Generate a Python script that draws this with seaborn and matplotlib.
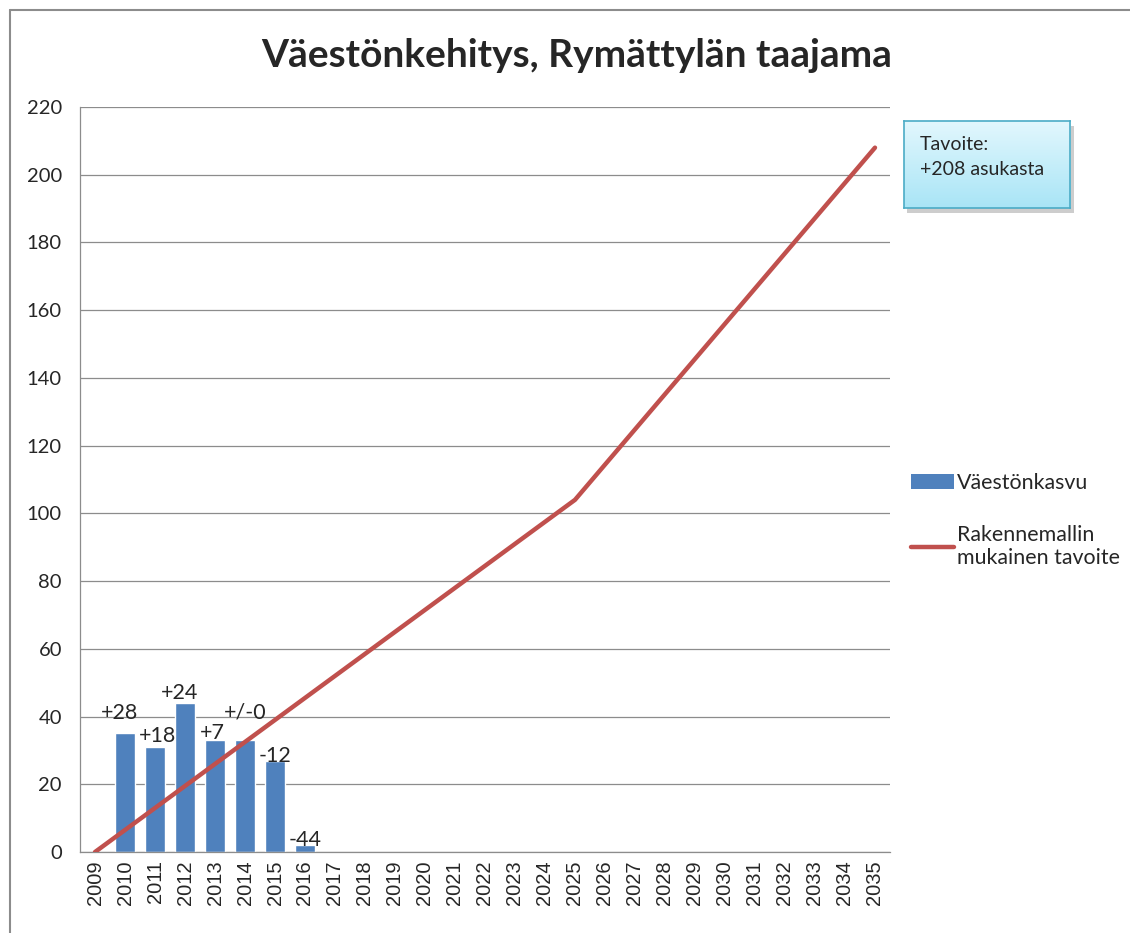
import numpy as np
import pandas as pd
import seaborn as sns
import matplotlib.pyplot as plt
from matplotlib.patches import Patch, Rectangle
from matplotlib.lines import Line2D

# data
years = [str(y) for y in range(2009, 2036)]
bar_years = ['2010', '2011', '2012', '2013', '2014', '2015', '2016']
bar_values = [35, 31, 44, 33, 33, 27, 2]
bar_labels = ['+28', '+18', '+24', '+7', '+/-0', '-12', '-44']
target = [0, 6.5, 13, 19.5, 26, 32.5, 39, 45.5, 52, 58.5, 65, 71.5, 78, 84.5,
          91, 97.5, 104, 114.4, 124.8, 135.2, 145.6, 156, 166.4, 176.8,
          187.2, 197.6, 208]

# label nudges (points) so they sit like the original
label_dx = [-4, 2, -4, -2, 0, 0, 0]
label_dy = [15, 8, 7, 5, 20, 3, 4]

sns.set_style("white")
plt.rcParams['font.family'] = ['Lato', 'DejaVu Sans']

fig = plt.figure(figsize=(11.3, 9.33), dpi=100)
ax = fig.add_axes([0.0708, 0.0868, 0.7168, 0.7985])

bars = pd.DataFrame({'year': bar_years, 'value': bar_values})
sns.barplot(data=bars, x='year', y='value', order=years, color='#4F81BD',
            saturation=1, width=0.67, ax=ax, zorder=2)
sns.lineplot(x=np.arange(len(years)), y=target, color='#C0504D', lw=3.2,
             ax=ax, zorder=3)

# bar labels
for i, (yr, v, lab) in enumerate(zip(bar_years, bar_values, bar_labels)):
    ax.annotate(lab, (years.index(yr), v), xytext=(label_dx[i], label_dy[i]),
                textcoords='offset points', ha='center', va='center',
                fontsize=15.5, zorder=4)

# axes styling
ax.set_xlim(-0.5, len(years) - 0.5)
ax.set_ylim(0, 220)
ax.set_yticks(range(0, 221, 20))
ax.yaxis.grid(True, color='#8c8c8c', lw=0.9)
ax.set_axisbelow(True)
ax.set_xlabel('')
ax.set_ylabel('')
for side in ['top', 'right']:
    ax.spines[side].set_visible(False)
for side in ['left', 'bottom']:
    ax.spines[side].set_color('#8c8c8c')
    ax.spines[side].set_linewidth(0.9)

ax.set_xticks(np.arange(-0.5, len(years), 1))
ax.set_xticklabels([])
ax.set_xticks(np.arange(len(years)), minor=True)
ax.set_xticklabels(years, minor=True, rotation=90,
                   family=['Liberation Sans'], fontsize=14.5)
ax.tick_params(axis='x', which='major', length=5, color='#8c8c8c', width=0.9)
ax.tick_params(axis='x', which='minor', length=0, pad=6)
ax.tick_params(axis='y', length=5, color='#8c8c8c', width=0.9, labelsize=14.5,
               pad=8)

fig.text(0.51, 0.941, 'Väestönkehitys, Rymättylän taajama', ha='center',
         va='center', fontsize=28, fontweight='bold')

# legend
handles = [Patch(facecolor='#4F81BD', edgecolor='none'),
           Line2D([], [], color='#C0504D', lw=3.2)]
fig.legend(handles, ['Väestönkasvu', 'Rakennemallin\nmukainen tavoite'],
           loc='upper left', bbox_to_anchor=(0.789, 0.514), frameon=False,
           fontsize=15.4, handlelength=2.0, handletextpad=0.15,
           labelspacing=1.5)

# target callout box with gradient
shadow = Rectangle((0.803, 0.772), 0.147, 0.0932, transform=fig.transFigure,
                   facecolor='#b8b8b8', edgecolor='none', alpha=0.7)
shadow.set_zorder(2)
fig.add_artist(shadow)
bax = fig.add_axes([0.800, 0.777, 0.147, 0.0932])
bax.set_zorder(3)
grad = np.linspace(0, 1, 100).reshape(-1, 1)
bax.imshow(grad, aspect='auto', extent=(0, 1, 0, 1), origin='upper',
           cmap=sns.blend_palette(['#e2f7fd', '#a9e5f6'], as_cmap=True))
bax.set_xticks([])
bax.set_yticks([])
for sp in bax.spines.values():
    sp.set_color('#4bacc6')
    sp.set_linewidth(1.2)
bax.text(0.095, 0.83, 'Tavoite:\n+208 asukasta', ha='left', va='top',
         fontsize=14, linespacing=1.55, transform=bax.transAxes)

# outer chart border
fig.add_artist(Line2D([0.009, 0.009], [0, 0.989], color='#8c8c8c', lw=1.5,
                      transform=fig.transFigure))
fig.add_artist(Line2D([0.009, 1], [0.989, 0.989], color='#8c8c8c', lw=1.5,
                      transform=fig.transFigure))

fig.savefig('out.png', dpi=100)
